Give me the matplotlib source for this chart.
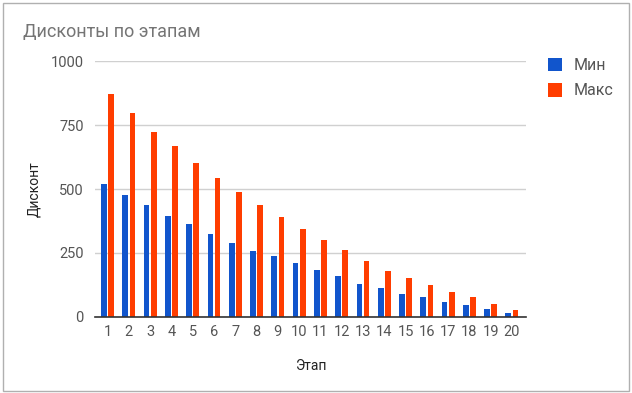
import matplotlib.pyplot as plt
import numpy as np
from matplotlib.patches import Rectangle

stages = list(range(1, 21))
min_vals = [520, 475, 436, 396, 365, 324, 289, 258, 236, 209,
            182, 160, 129, 111, 89, 76, 57, 45, 30, 13]
max_vals = [872, 797, 725, 667, 600, 543, 488, 436, 391, 345,
            302, 263, 219, 178, 151, 124, 98, 76, 48, 26]
y_ticks = [0, 250, 500, 750, 1000]

blue = "#1155cc"
red = "#ff3d00"
grey_text = "#555555"

plt.rcParams['font.family'] = ['Roboto', 'DejaVu Sans']

fig = plt.figure(figsize=(6.32, 3.93), dpi=100)
fig.patches.append(Rectangle((0.004, 0.006), 0.992, 0.986, transform=fig.transFigure,
                             fill=False, edgecolor="#b0b0b0", linewidth=1.0))

ax = fig.add_axes([0.150, 0.194, 0.682, 0.650])
x = np.array(stages)
w = 0.27
ax.bar(x - 0.17, min_vals, width=w, color=blue, label="Мин", zorder=3)
ax.bar(x + 0.17, max_vals, width=w, color=red, label="Макс", zorder=3)

ax.set_xlim(0.4, 20.65)
ax.set_ylim(0, 1000)
ax.set_yticks(y_ticks)
ax.set_xticks(stages)
ax.yaxis.grid(True, color="#d0d0d0", linewidth=1.0, zorder=0)
for s in ["top", "right", "left"]:
    ax.spines[s].set_visible(False)
ax.spines["bottom"].set_color("#333333")
ax.spines["bottom"].set_linewidth(1.2)
ax.spines["bottom"].set_zorder(4)
ax.tick_params(axis="both", length=0, labelsize=10.5, labelcolor=grey_text)
ax.tick_params(axis="x", pad=6)
ax.tick_params(axis="y", pad=8)

ax.set_xlabel("Этап", fontsize=10, color="#222222", labelpad=14)
ax.set_ylabel("Дисконт", fontsize=10, color="#222222", labelpad=7)

fig.text(0.036, 0.918, "Дисконты по этапам", fontsize=13, color="#757575",
         ha="left", va="center")

ax.legend(loc="upper left", bbox_to_anchor=(1.018, 1.07), frameon=False,
          fontsize=11.5, labelcolor=grey_text, handlelength=0.9, handleheight=0.9,
          handletextpad=0.7, labelspacing=0.65)

fig.savefig("out.png", dpi=100)
